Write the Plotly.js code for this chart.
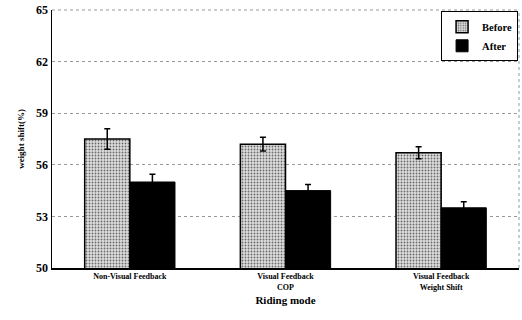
<!DOCTYPE html>
<html><head><meta charset="utf-8">
<script src="https://cdn.plot.ly/plotly-3.0.1.min.js"></script>
<style>body{margin:0;background:#fff}#c{width:522px;height:320px}</style>
</head><body><div id="c"></div>
<script>
var categories = ["Non-Visual Feedback", "Visual Feedback<br>COP", "Visual Feedback<br>Weight Shift"];
var beforeVals = [57.5, 57.2, 56.7];
var beforeErr = [0.6, 0.4, 0.35];
var afterVals = [55.0, 54.5, 53.5];
var afterErr = [0.45, 0.35, 0.35];
var yTicks = [50, 53, 56, 59, 62, 65];

var serif = "Liberation Serif, Times New Roman, serif";
var traces = [
  {type:"bar", name:"Before", x:categories, y:beforeVals,
   marker:{color:"#d0d0d0", line:{color:"#000", width:1.5},
     pattern:{shape:".", fgcolor:"#6a6a6a", bgcolor:"#dedede", size:3, solidity:0.3}},
   error_y:{type:"data", array:beforeErr, visible:true, color:"#000", thickness:1.5, width:3}},
  {type:"bar", name:"After", x:categories, y:afterVals,
   marker:{color:"#000", line:{color:"#000", width:1}},
   error_y:{type:"data", array:afterErr, visible:true, color:"#000", thickness:1.5, width:3}}
];
var layout = {
  width:522, height:320,
  margin:{l:52, r:3, t:10, b:52},
  paper_bgcolor:"#fff", plot_bgcolor:"#fff",
  barmode:"group", bargap:0.42, bargroupgap:0,
  font:{family:serif, color:"#000"},
  xaxis:{showline:true, linecolor:"#000", linewidth:1.5, ticks:"", showgrid:false,
    tickfont:{family:serif, size:8, color:"#000", weight:"bold"},
    title:{text:"<b>Riding mode</b>", font:{family:serif, size:11}, standoff:6}},
  yaxis:{range:[50,65], tickvals:yTicks, ticktext:yTicks.map(String),
    showline:true, linecolor:"#000", linewidth:1.5, ticks:"",
    showgrid:true, gridcolor:"#999", griddash:"dot", gridwidth:1,
    zeroline:false,
    tickfont:{family:serif, size:12, color:"#000", weight:"bold"},
    title:{text:"<b>weight shift(%)</b>", font:{family:serif, size:9}, standoff:10}},
  legend:{x:0.998, y:0.995, xanchor:"right", yanchor:"top", bgcolor:"#fff",
    bordercolor:"#000", borderwidth:1, font:{family:serif, size:10.5, color:"#000", weight:"bold"},
    itemwidth:30, tracegroupgap:0},
  shapes:[
    {type:"line", xref:"paper", yref:"paper", x0:0, x1:1, y0:1, y1:1, line:{color:"#999", width:1, dash:"dot"}},
    {type:"line", xref:"paper", yref:"paper", x0:1, x1:1, y0:0, y1:1, line:{color:"#999", width:1, dash:"dot"}}
  ],
  showlegend:true
};
Plotly.newPlot("c", traces, layout, {displayModeBar:false, staticPlot:true});
</script></body></html>
